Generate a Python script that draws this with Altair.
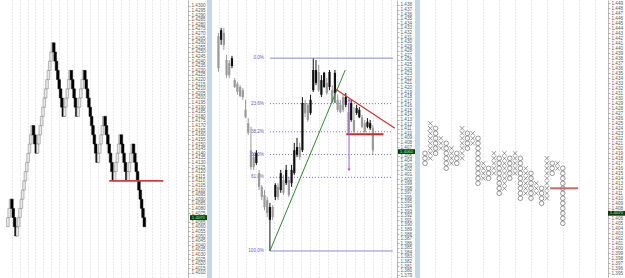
import altair as alt
import numpy as np
import pandas as pd

FONT = "Liberation Sans"
W1, W2, W3, H = 207, 203, 205, 278
GAP = 5

# ---------------- Panel 1 : renko bricks (box 0.001) ----------------
renko_first_open = 1.406
renko_close = [
    1.407, 1.408, 1.409,
    1.408, 1.407, 1.406, 1.405,
    1.406, 1.407, 1.408, 1.409, 1.410, 1.411, 1.412, 1.413, 1.414, 1.415, 1.416, 1.417,
    1.416, 1.415, 1.414,
    1.415, 1.416, 1.417, 1.418, 1.419, 1.420, 1.421, 1.422, 1.423, 1.424, 1.425, 1.426,
    1.425, 1.424, 1.423, 1.422, 1.421, 1.420, 1.419, 1.418,
    1.419, 1.420, 1.421, 1.422, 1.423,
    1.422, 1.421, 1.420, 1.419, 1.418,
    1.419, 1.420, 1.421, 1.422, 1.423,
    1.422, 1.421, 1.420, 1.419, 1.418, 1.417, 1.416, 1.415, 1.414, 1.413,
    1.414, 1.415, 1.416, 1.417, 1.418,
    1.417, 1.416, 1.415, 1.414, 1.413, 1.412, 1.411,
    1.412, 1.413, 1.414, 1.415, 1.416,
    1.415, 1.414, 1.413, 1.412, 1.411,
    1.412, 1.413, 1.414, 1.415,
    1.414, 1.413, 1.412, 1.411, 1.410, 1.409, 1.408, 1.407, 1.406,
]
renko_support = 1.4110
renko_support_cols = [75, 115]
renko_last = 1.4070
renko_last_label = "1.4070"
renko_ticks = [round(1.4010 + 0.0005 * k, 4) for k in range(59)]

# ---------------- Panel 2 : candles + fibonacci ----------------
c_open = [1.4312, 1.4304, 1.4319, 1.4260, 1.4253, 1.4247, 1.4216, 1.4208, 1.4201, 1.4194,
          1.4151, 1.4122, 1.4063, 1.4048, 1.4035, 1.4013, 1.3983, 1.3965, 1.3954, 1.3911,
          1.3939, 1.3961, 1.3983, 1.3976, 1.3998, 1.3991, 1.3998, 1.3991, 1.4013, 1.4053,
          1.4070, 1.4063, 1.4166, 1.4162, 1.4144, 1.4194, 1.4210, 1.4234, 1.4184, 1.4201,
          1.4210, 1.4201, 1.4194, 1.4188, 1.4173, 1.4162, 1.4179, 1.4162, 1.4146, 1.4129,
          1.4129, 1.4144, 1.4135, 1.4135, 1.4122, 1.4114, 1.4111, 1.4111]
c_high = [1.4319, 1.4330, 1.4330, 1.4271, 1.4260, 1.4269, 1.4221, 1.4212, 1.4205, 1.4199,
          1.4173, 1.4133, 1.4114, 1.4057, 1.4063, 1.4020, 1.3987, 1.3976, 1.3961, 1.3948,
          1.3943, 1.3991, 1.3991, 1.4020, 1.4009, 1.4031, 1.4005, 1.4031, 1.4079, 1.4090,
          1.4079, 1.4179, 1.4173, 1.4166, 1.4184, 1.4264, 1.4260, 1.4249, 1.4227, 1.4234,
          1.4221, 1.4238, 1.4205, 1.4238, 1.4184, 1.4173, 1.4184, 1.4188, 1.4166, 1.4173,
          1.4157, 1.4162, 1.4157, 1.4140, 1.4129, 1.4133, 1.4129, 1.4118]
c_low = [1.4234, 1.4293, 1.4282, 1.4221, 1.4221, 1.4242, 1.4199, 1.4184, 1.4179, 1.4173,
         1.4133, 1.4096, 1.4020, 1.4020, 1.4031, 1.3976, 1.3954, 1.3932, 1.3917, 1.3843,
         1.3911, 1.3954, 1.3954, 1.3970, 1.3965, 1.3987, 1.3961, 1.3983, 1.4009, 1.4048,
         1.4042, 1.4059, 1.4135, 1.4125, 1.4140, 1.4190, 1.4205, 1.4190, 1.4179, 1.4199,
         1.4184, 1.4194, 1.4166, 1.4166, 1.4146, 1.4144, 1.4146, 1.4157, 1.4096, 1.4125,
         1.4101, 1.4140, 1.4133, 1.4111, 1.4101, 1.4111, 1.4107, 1.4053]
c_close = [1.4242, 1.4325, 1.4293, 1.4227, 1.4227, 1.4264, 1.4201, 1.4190, 1.4181, 1.4179,
           1.4135, 1.4101, 1.4026, 1.4026, 1.4057, 1.3983, 1.3961, 1.3939, 1.3926, 1.3939,
           1.3917, 1.3987, 1.3961, 1.4013, 1.3970, 1.4020, 1.3965, 1.4020, 1.4063, 1.4070,
           1.4048, 1.4166, 1.4144, 1.4129, 1.4173, 1.4238, 1.4238, 1.4194, 1.4216, 1.4232,
           1.4188, 1.4234, 1.4168, 1.4232, 1.4151, 1.4146, 1.4151, 1.4179, 1.4101, 1.4166,
           1.4103, 1.4155, 1.4151, 1.4114, 1.4103, 1.4125, 1.4122, 1.4063]
fib_low_bar, fib_high_bar = 19, 35          # swing low / swing high candles
fib_ratios = [0.0, 0.236, 0.382, 0.5, 0.618, 1.0]
fib_labels = ["0.0%", "23.6%", "38.2%", "50.0%", "61.8%", "100.0%"]
fib_end_col = 64.4
green_trend = {"col": [19, 46.8], "price": [1.3843, 1.4238]}
red_trend = {"col": [43.3, 65.1], "price": [1.4196, 1.4111]}
c_support = 1.4098
c_support_cols = [47.2, 60.9]
target_arrow = {"col": 48.2, "top": 1.4173, "bottom": 1.4020}
candle_last = 1.4060
candle_last_label = "1.4060"
candle_ticks = [round(1.379 + 0.001 * k, 3) for k in range(60)]

# ---------------- Panel 3 : point & figure (box 0.001) ----------------
pf_box = 0.001
pf_type = ["O", "X", "O", "X", "O", "X", "O", "X", "O", "X", "O", "X", "O", "X",
           "O", "X", "O", "X", "O", "X", "O", "X", "O", "X", "O", "X", "O"]
pf_low = [1.417, 1.418, 1.419, 1.420, 1.416, 1.417, 1.417, 1.418, 1.420, 1.421, 1.413,
          1.414, 1.414, 1.415, 1.411, 1.412, 1.414, 1.415, 1.410, 1.411, 1.410, 1.411,
          1.409, 1.410, 1.415, 1.416, 1.405]
pf_high = [1.419, 1.425, 1.424, 1.422, 1.421, 1.420, 1.419, 1.424, 1.423, 1.423, 1.422,
           1.417, 1.416, 1.419, 1.418, 1.419, 1.418, 1.419, 1.418, 1.416, 1.415, 1.413,
           1.412, 1.418, 1.417, 1.417, 1.416]
pf_support = 1.412
pf_support_cols = [23.6, 28.9]
pf_last = 1.4070
pf_last_label = "1.4070"
pf_ticks = [round(1.395 + 0.001 * k, 3) for k in range(55)]


# ---------------- helpers ----------------
def xscale(unit, start, width):
    return alt.Scale(domain=[-start / unit, (width - start) / unit], nice=False, zero=False)


def yaxis(values, fmt, offset, hide_near, step):
    # the last-price box covers the tick label it sits on
    vals = [v for v in values if abs(v - hide_near) > step * 0.5]
    return alt.Axis(orient="right", offset=offset, values=vals, format=fmt,
                    labelFontSize=4.6, labelFont=FONT, labelColor="#5a5a5a",
                    labelPadding=1, labelOverlap=False, labelFlush=False,
                    tickSize=2, tickColor="#8a8a8a", tickWidth=0.6,
                    domainColor="#8a8a8a", domainWidth=0.6, grid=False, title=None,
                    minExtent=0, maxExtent=0)


def xgrid(values):
    return alt.Axis(values=values, grid=True, gridColor="#c4c4c4", gridDash=[1, 2],
                    gridWidth=0.7, labels=False, ticks=False, domain=False, title=None,
                    minExtent=0, maxExtent=0)


def last_price(price, label, X, Y, width, half):
    d = pd.DataFrame({"price": [price], "label": [label]})
    box = alt.Chart(d).transform_calculate(
        lo=f"datum.price - {half}", hi=f"datum.price + {half}"
    ).mark_rect(color="#0d3b0d").encode(
        x=alt.value(width - 17), x2=alt.value(width),
        y=Y("lo:Q"), y2="hi:Q")
    txt = alt.Chart(d).mark_text(fontSize=4.4, font=FONT, color="#8dff8d",
                                 align="center", baseline="middle").encode(
        x=alt.value(width - 8.5), y=Y("price:Q"), text="label:N")
    return box + txt


def channels(xs, xax, ys, yax):
    X = lambda f: alt.X(f, scale=xs, axis=xax)
    Y = lambda f: alt.Y(f, scale=ys, axis=yax)
    return X, Y


# ---------------- panel 1 ----------------
U1, S1 = 1.42, 3
xs1 = xscale(U1, S1, W1)
ys1 = alt.Scale(domain=[1.400435, 1.430652], nice=False, zero=False)
grid1 = [((7.3 + 8.2 * k) - S1) / U1 for k in range(22)]
X1, Y1 = channels(xs1, xgrid(grid1), ys1, yaxis(renko_ticks, ".4f", 188 - W1, renko_last, 0.0005))
opens = [renko_first_open] + renko_close[:-1]
df1 = pd.DataFrame({"col": np.arange(len(renko_close)), "open": opens, "close": renko_close})
df1["dir"] = np.where(df1["close"] > df1["open"], "up", "down")

bricks = alt.Chart(df1).mark_bar(size=2.6, strokeWidth=0.5).encode(
    x=X1("col:Q"), y=Y1("open:Q"), y2="close:Q",
    fill=alt.Fill("dir:N", scale=alt.Scale(domain=["up", "down"], range=["#e8e8e8", "#000000"]), legend=None),
    stroke=alt.Stroke("dir:N", scale=alt.Scale(domain=["up", "down"], range=["#7a7a7a", "#000000"]), legend=None),
)
sup1 = alt.Chart(pd.DataFrame({"c0": [renko_support_cols[0]], "c1": [renko_support_cols[1]],
                               "level": [renko_support]})).mark_rule(
    color="#d23c3c", strokeWidth=1.8).encode(x=X1("c0:Q"), x2="c1:Q", y=Y1("level:Q"))
panel1 = alt.layer(bricks, sup1, last_price(renko_last, renko_last_label, X1, Y1, W1, 0.00027)).properties(
    width=W1, height=H)

# ---------------- panel 2 ----------------
U2, S2 = 2.85, 1.5
xs2 = xscale(U2, S2, W2)
ys2 = alt.Scale(domain=[1.378403, 1.43909], nice=False, zero=False)
grid2 = [((2.5 + 9.5 * k) - S2) / U2 for k in range(20)]
X2, Y2 = channels(xs2, xgrid(grid2), ys2, yaxis(candle_ticks, ".3f", 185 - W2, candle_last, 0.001))
df2 = pd.DataFrame({"col": np.arange(len(c_open)), "o": c_open, "h": c_high, "l": c_low, "c": c_close})
df2["dir"] = np.where(df2["c"] > df2["o"], "up", "down")
cscale = alt.Scale(domain=["up", "down"], range=["#111111", "#9a9a9a"])

wicks = alt.Chart(df2).mark_rule(strokeWidth=1).encode(
    x=X2("col:Q"), y=Y2("l:Q"), y2="h:Q", color=alt.Color("dir:N", scale=cscale, legend=None))
bodies = alt.Chart(df2).mark_bar(size=2.2).encode(
    x=X2("col:Q"), y=Y2("o:Q"), y2="c:Q", color=alt.Color("dir:N", scale=cscale, legend=None))

fhigh, flow = c_high[fib_high_bar], c_low[fib_low_bar]
dfib = pd.DataFrame({"ratio": fib_ratios, "label": fib_labels})
dfib["level"] = fhigh - dfib["ratio"] * (fhigh - flow)
dfib["c0"] = fib_low_bar
dfib["c1"] = fib_end_col
dfib["solid"] = dfib["ratio"].isin([0.0, 1.0])
fib_solid = alt.Chart(dfib[dfib["solid"]]).mark_rule(color="#7b7bd6", strokeWidth=0.9).encode(
    x=X2("c0:Q"), x2="c1:Q", y=Y2("level:Q"))
fib_dot = alt.Chart(dfib[~dfib["solid"]]).mark_rule(color="#5a5ab8", strokeWidth=0.9,
                                                    strokeDash=[1, 2]).encode(
    x=X2("c0:Q"), x2="c1:Q", y=Y2("level:Q"))
fib_txt = alt.Chart(dfib).mark_text(fontSize=4.6, font=FONT, color="#5d5dcc", align="right",
                                    baseline="middle", dx=-6).encode(
    x=X2("c0:Q"), y=Y2("level:Q"), text="label:N")
green = alt.Chart(pd.DataFrame(green_trend)).mark_line(color="#2f8a2f", strokeWidth=1).encode(
    x=X2("col:Q"), y=Y2("price:Q"))
redt = alt.Chart(pd.DataFrame(red_trend)).mark_line(color="#d03030", strokeWidth=1.2).encode(
    x=X2("col:Q"), y=Y2("price:Q"))
sup2 = alt.Chart(pd.DataFrame({"c0": [c_support_cols[0]], "c1": [c_support_cols[1]],
                               "level": [c_support]})).mark_rule(
    color="#cc2a2a", strokeWidth=2).encode(x=X2("c0:Q"), x2="c1:Q", y=Y2("level:Q"))
darr = pd.DataFrame({"col": [target_arrow["col"]], "top": [target_arrow["top"]],
                     "bottom": [target_arrow["bottom"]]})
arr_line = alt.Chart(darr).mark_rule(color="#9a5fd6", strokeWidth=1).encode(
    x=X2("col:Q"), y=Y2("top:Q"), y2="bottom:Q")
arr_top = alt.Chart(darr).mark_point(shape="triangle-up", size=10, filled=True, color="#9a5fd6",
                                     opacity=1).encode(x=X2("col:Q"), y=Y2("top:Q"))
arr_bot = alt.Chart(darr).mark_point(shape="triangle-down", size=10, filled=True, color="#9a5fd6",
                                     opacity=1).encode(x=X2("col:Q"), y=Y2("bottom:Q"))
panel2 = alt.layer(wicks, fib_solid, fib_dot, fib_txt, bodies, green, redt, sup2,
                   arr_line, arr_top, arr_bot,
                   last_price(candle_last, candle_last_label, X2, Y2, W2, 0.00052)).properties(
    width=W2, height=H)

# ---------------- panel 3 ----------------
U3, S3 = 5.3, 5
xs3 = xscale(U3, S3, W3)
ys3 = alt.Scale(domain=[1.39406, 1.44966], nice=False, zero=False)
grid3 = [((15 + 16 * k) - S3) / U3 for k in range(11)]
X3, Y3 = channels(xs3, xgrid(grid3), ys3, yaxis(pf_ticks, ".3f", 188 - W3, pf_last, 0.001))
rows = []
for k, (t, lo, hi) in enumerate(zip(pf_type, pf_low, pf_high)):
    n = int(round((hi - lo) / pf_box)) + 1
    for j in range(n):
        rows.append({"col": k, "price": round(lo + j * pf_box, 4), "type": t})
df3 = pd.DataFrame(rows)

o_marks = alt.Chart(df3[df3["type"] == "O"]).mark_point(
    shape="circle", size=21, filled=False, color="#555555", strokeWidth=0.6, opacity=1).encode(
    x=X3("col:Q"), y=Y3("price:Q"))
x_marks = alt.Chart(df3[df3["type"] == "X"]).mark_point(
    shape="M-1,-1L1,1M-1,1L1,-1", size=20, filled=False, color="#555555", strokeWidth=0.6,
    opacity=1).encode(x=X3("col:Q"), y=Y3("price:Q"))
sup3 = alt.Chart(pd.DataFrame({"c0": [pf_support_cols[0]], "c1": [pf_support_cols[1]],
                               "level": [pf_support]})).mark_rule(
    color="#c46a6a", strokeWidth=2).encode(x=X3("c0:Q"), x2="c1:Q", y=Y3("level:Q"))
panel3 = alt.layer(o_marks, x_marks, sup3,
                   last_price(pf_last, pf_last_label, X3, Y3, W3, 0.00048)).properties(
    width=W3, height=H)

chart = alt.hconcat(panel1, panel2, panel3, spacing=GAP).resolve_scale(
    x="independent", y="independent").resolve_axis(
    x="independent", y="independent").properties(
    background="#c7d6e9", padding=0).configure_view(
    fill="white", strokeWidth=0)

chart.save("out.html", embed_options={"renderer": "svg", "actions": False})
